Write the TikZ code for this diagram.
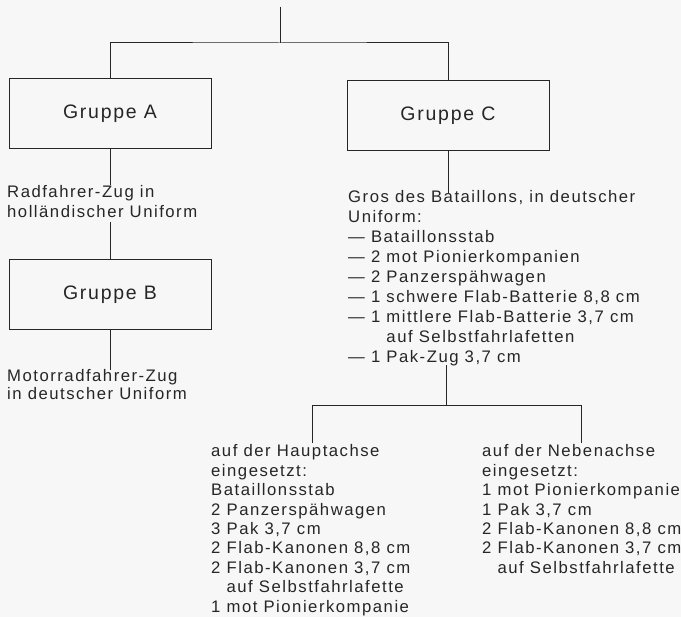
\documentclass[tikz,border=0pt]{standalone}
\usepackage{fontspec}
\setmainfont{Liberation Sans}[LetterSpace=9]
\definecolor{ink}{gray}{0.15}
\definecolor{bg}{gray}{0.97}
\begin{document}
\begin{tikzpicture}[x=1pt,y=-1pt,
  grp/.style={draw=ink, line width=1pt, minimum width=202pt, minimum height=70pt,
    inner sep=0pt, text=ink, font=\fontsize{19.5}{23}\selectfont},
  lst/.style={anchor=base west, inner sep=0pt, text=ink},
  conn/.style={draw=ink, line width=1pt}]
\fill[bg] (0,0) rectangle (681,617);
\useasboundingbox (0,0) rectangle (681,617);

\node[grp] (A) at (110,114) {Gruppe A};
\node[grp] (C) at (448,116) {Gruppe C};
\node[grp] (B) at (110,295) {Gruppe B};

\node[lst] (rad) at (7,198) {\fontsize{16.7}{20}\selectfont
  \begin{tabular}[t]{@{}l@{}}Radfahrer-Zug in\\ holländischer Uniform\end{tabular}};
\node[lst] (mot) at (7,382) {\fontsize{16.7}{18}\selectfont
  \begin{tabular}[t]{@{}l@{}}Motorradfahrer-Zug\\ in deutscher Uniform\end{tabular}};

\node[lst] (gros) at (348,203) {\fontsize{16.7}{20}\selectfont
  \begin{tabular}[t]{@{}l@{}}Gros des Bataillons, in deutscher\\
  Uniform:\\
  — Bataillonsstab\\
  — 2 mot Pionierkompanien\\
  — 2 Panzerspähwagen\\
  — 1 schwere Flab-Batterie 8,8 cm\\
  — 1 mittlere Flab-Batterie 3,7 cm\\
  \hphantom{— 1 }auf Selbstfahrlafetten\\
  — 1 Pak-Zug 3,7 cm\end{tabular}};

\node[lst] (haupt) at (211,457) {\fontsize{16.7}{19.4}\selectfont
  \begin{tabular}[t]{@{}l@{}}auf der Hauptachse\\
  eingesetzt:\\
  Bataillonsstab\\
  2 Panzerspähwagen\\
  3 Pak 3,7 cm\\
  2 Flab-Kanonen 8,8 cm\\
  2 Flab-Kanonen 3,7 cm\\
  \hphantom{2 }auf Selbstfahrlafette\\
  1 mot Pionierkompanie\end{tabular}};

\node[lst] (neben) at (482,457) {\fontsize{16.7}{19.4}\selectfont
  \begin{tabular}[t]{@{}l@{}}auf der Nebenachse\\
  eingesetzt:\\
  1 mot Pionierkompanie\\
  1 Pak 3,7 cm\\
  2 Flab-Kanonen 8,8 cm\\
  2 Flab-Kanonen 3,7 cm\\
  \hphantom{2 }auf Selbstfahrlafette\end{tabular}};

\coordinate (top) at (280,7);
\coordinate (j1) at (280,43);
\coordinate (split) at (446,406);
\coordinate (hl) at (312,406);
\coordinate (hr) at (581,406);

\draw[conn] (top) -- (j1);
\draw[conn] (A.north) |- (j1) -| (C.north);
\draw[conn] (A.south) -- ([yshift=-1pt]A.south |- rad.north);
\draw[conn] ([yshift=2pt]B.north |- rad.south) -- (B.north);
\draw[conn] (B.south) -- ([yshift=-1pt]B.south |- mot.north);
\draw[conn] (C.south) -- ([yshift=-4pt]C.south |- gros.north);
\draw[conn] ([yshift=4pt]gros.south -| split) -- (split);
\draw[conn] (hl |- haupt.north) -- (hl) -- (hr) -- (hr |- neben.north);
\end{tikzpicture}
\end{document}
